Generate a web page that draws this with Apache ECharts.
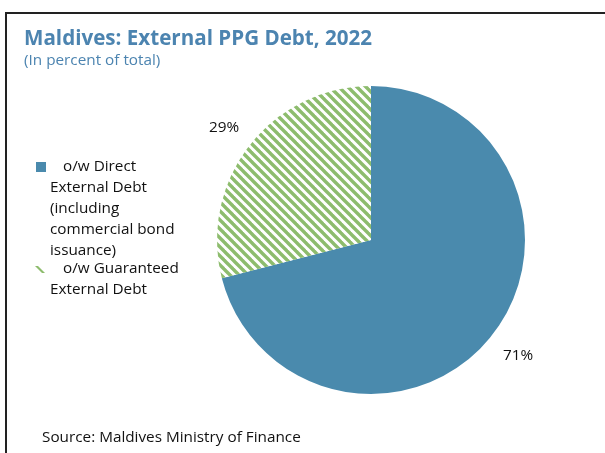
<!DOCTYPE html>
<html><head><meta charset="utf-8">
<script src="https://cdn.jsdelivr.net/npm/echarts@6/dist/echarts.min.js"></script>
<style>html,body{margin:0;padding:0;background:#fff;}#c{width:605px;height:453px;}</style>
</head><body><div id="c"></div>
<script>
var categories = ['o/w Direct External Debt (including commercial bond issuance)', 'o/w Guaranteed External Debt'];
var values = [71, 29];
var legendLines = [
  ['o/w Direct', 'External Debt', '(including', 'commercial bond', 'issuance)'],
  ['o/w Guaranteed', 'External Debt']
];
var titleText = 'Maldives: External PPG Debt, 2022';
var subtitleText = '(In percent of total)';
var sourceText = 'Source: Maldives Ministry of Finance';

var BLUE = '#4a8aad';
var GREEN = '#8dbc6d';

function stripePattern() {
  var s = 9, cv = document.createElement('canvas');
  cv.width = s; cv.height = s;
  var ctx = cv.getContext('2d');
  ctx.fillStyle = '#fff'; ctx.fillRect(0, 0, s, s);
  ctx.strokeStyle = GREEN; ctx.lineWidth = 3.4;
  for (var k = -1; k <= 1; k++) {
    ctx.beginPath();
    ctx.moveTo(k * s - 2, -2);
    ctx.lineTo(k * s + s + 2, s + 2);
    ctx.stroke();
  }
  return { image: cv, repeat: 'repeat' };
}
var pattern = stripePattern();
var colors = [BLUE, pattern];

var chart = echarts.init(document.getElementById('c'), null, { renderer: 'canvas' });

var FONT = '"Open Sans", "Noto Sans", sans-serif';
var FS = 15.3;
var graphics = [
  { type: 'rect', shape: { x: 6, y: 13, width: 700, height: 600 }, style: { fill: 'none', stroke: '#222', lineWidth: 2 }, silent: true },
  { type: 'text', left: 24, top: 29, style: { text: titleText, font: '700 20.6px ' + FONT, fill: '#4c84b0' } },
  { type: 'text', left: 24, top: 53, style: { text: subtitleText, font: FS + 'px ' + FONT, fill: '#4c84b0' } },
  { type: 'text', left: 42, top: 430, style: { text: sourceText, font: FS + 'px ' + FONT, fill: '#111' } }
];
var legendTops = [156, 258];
legendLines.forEach(function (lines, i) {
  var rich = '{f|' + lines[0] + '}' + (lines.length > 1 ? '\n' + lines.slice(1).join('\n') : '');
  graphics.push({
    type: 'text', left: 50, top: legendTops[i],
    style: {
      text: rich, font: FS + 'px ' + FONT, fill: '#111', lineHeight: 21,
      rich: { f: { padding: [0, 0, 0, 13], font: FS + 'px ' + FONT, fill: '#111', lineHeight: 21 } }
    }
  });
});
graphics.push({ type: 'rect', shape: { x: 36, y: legendTops[0] + 6, width: 10, height: 10 }, style: { fill: BLUE } });
graphics.push({ type: 'polygon', shape: { points: [[35, legendTops[1] + 8], [38, legendTops[1] + 8], [45, legendTops[1] + 15], [42, legendTops[1] + 15]] }, style: { fill: GREEN } });

var pieData = categories.map(function (n, i) {
  return { name: n, value: values[i], itemStyle: { color: colors[i] } };
});

chart.setOption({
  animation: false,
  graphic: graphics,
  series: [{
    type: 'pie',
    center: [371, 240],
    radius: [0, 154],
    startAngle: 90,
    clockwise: true,
    data: pieData,
    label: { show: false },
    labelLine: { show: false },
    itemStyle: { borderWidth: 0 },
    emphasis: { disabled: true },
    silent: true
  }, {
    type: 'pie',
    center: [371, 242],
    radius: [166, 200],
    startAngle: 90,
    clockwise: true,
    data: categories.map(function (n, i) { return { name: n, value: values[i] }; }),
    itemStyle: { color: 'rgba(0,0,0,0)' },
    label: {
      show: true, position: 'inside',
      formatter: function (p) { return p.value + '%'; },
      fontFamily: FONT, fontSize: FS, color: '#111'
    },
    labelLine: { show: false },
    emphasis: { disabled: true },
    silent: true
  }]
});
</script></body></html>
